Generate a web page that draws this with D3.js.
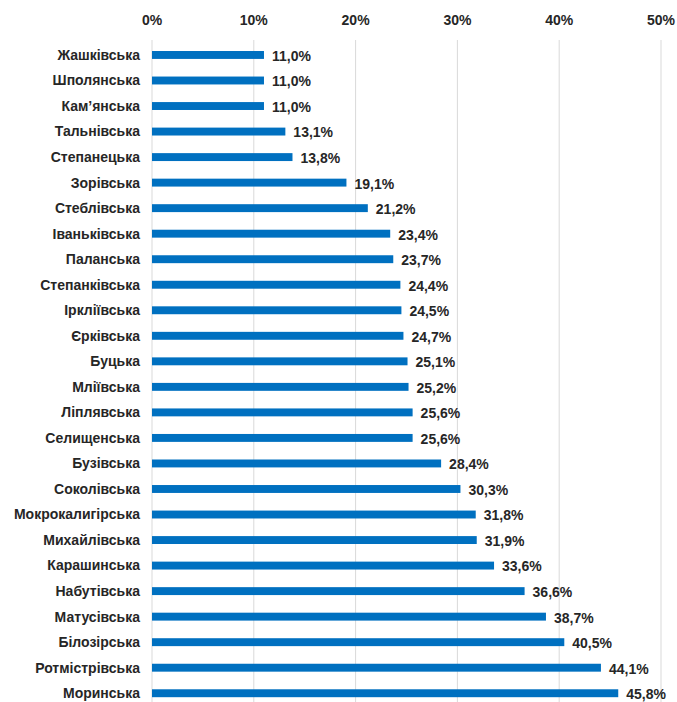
<!DOCTYPE html>
<html>
<head>
<meta charset="utf-8">
<script src="https://cdn.jsdelivr.net/npm/d3@7"></script>
<style>
  body { margin: 0; background: #fff; }
  text { font-family: "Liberation Sans", Arial, sans-serif; font-weight: bold; fill: #262626; }
</style>
</head>
<body>
<svg width="677" height="702"></svg>
<script>
const communities = [
  "Жашківська", "Шполянська", "Кам’янська", "Тальнівська", "Степанецька",
  "Зорівська", "Стеблівська", "Іваньківська", "Паланська", "Степанківська",
  "Іркліївська", "Єрківська", "Буцька", "Мліївська", "Ліплявська",
  "Селищенська", "Бузівська", "Соколівська", "Мокрокалигірська", "Михайлівська",
  "Карашинська", "Набутівська", "Матусівська", "Білозірська", "Ротмістрівська",
  "Моринська"
];
const values = [
  11.0, 11.0, 11.0, 13.1, 13.8,
  19.1, 21.2, 23.4, 23.7, 24.4,
  24.5, 24.7, 25.1, 25.2, 25.6,
  25.6, 28.4, 30.3, 31.8, 31.9,
  33.6, 36.6, 38.7, 40.5, 44.1,
  45.8
];
const ticks = [0, 10, 20, 30, 40, 50];

const svg = d3.select("svg");
const x = d3.scaleLinear().domain([0, 50]).range([152, 661]);
const y = d3.scaleBand().domain(communities).range([42.2, 706]).paddingInner(0.69).paddingOuter(0.345);

const fmt = v => v.toFixed(1).replace(".", ",") + "%";

svg.append("g").selectAll("line").data(ticks).join("line")
  .attr("x1", d => x(d)).attr("x2", d => x(d))
  .attr("y1", 40).attr("y2", 702)
  .attr("stroke", "#d9d9d9").attr("stroke-width", 1);

svg.append("g").selectAll("text").data(ticks).join("text")
  .attr("x", d => x(d)).attr("y", 25)
  .attr("text-anchor", "middle")
  .attr("font-size", 14)
  .text(d => d + "%");

const data = communities.map((c, i) => ({ name: c, value: values[i] }));

svg.append("g").selectAll("rect").data(data).join("rect")
  .attr("x", x(0))
  .attr("y", d => y(d.name))
  .attr("width", d => x(d.value) - x(0))
  .attr("height", y.bandwidth())
  .attr("fill", "#0070c0");

svg.append("g").selectAll("text").data(data).join("text")
  .attr("x", 140)
  .attr("y", d => y(d.name) + y.bandwidth() / 2)
  .attr("dy", "0.35em")
  .attr("text-anchor", "end")
  .attr("font-size", 14)
  .text(d => d.name);

svg.append("g").selectAll("text").data(data).join("text")
  .attr("x", d => x(d.value) + 8)
  .attr("y", d => y(d.name) + y.bandwidth() / 2 + 1)
  .attr("dy", "0.35em")
  .attr("font-size", 14)
  .text(d => fmt(d.value));
</script>
</body>
</html>
